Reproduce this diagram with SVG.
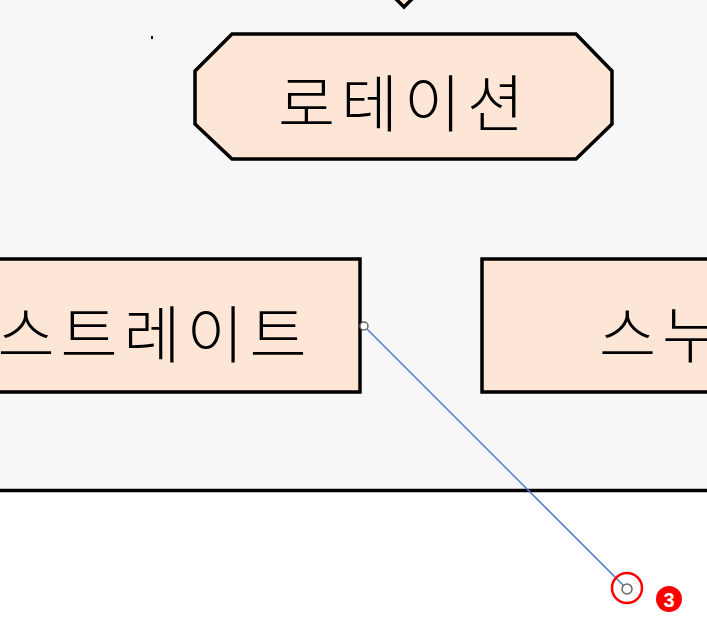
<svg xmlns="http://www.w3.org/2000/svg" width="707" height="624" viewBox="0 0 707 624">
<style>
.node{fill:#fee6d6;stroke:#000;stroke-width:3.5}
.lbl{font-family:"Noto Sans CJK KR","Noto Sans",sans-serif;font-size:62px;font-weight:300;fill:#000;text-anchor:middle;dominant-baseline:central;letter-spacing:6px}
.conn{stroke:#4a79cf;stroke-width:1.5;fill:none}
.end{fill:#fff;stroke:#666;stroke-width:1.5}
</style>
<rect x="0" y="0" width="707" height="624" fill="#fff"/>
<g id="container">
<rect x="-20" y="-20" width="760" height="510.5" fill="#f7f7f7" stroke="#000" stroke-width="3.5"/>
</g>
<rect x="151" y="36" width="2" height="3" fill="#000"/>
<g id="decision">
<polygon class="node" points="404,7 344,-53 404,-113 464,-53"/>
</g>
<g id="rotation">
<polygon class="node" points="232,34 576,34 612,71 612,124 576,159 232,159 195,124 195,71"/>
<text class="lbl" x="404" y="100">로테이션</text>
</g>
<g id="straight">
<rect class="node" x="-60" y="259" width="420" height="133"/>
<text class="lbl" x="155" y="331">스트레이트</text>
</g>
<g id="snooker">
<rect class="node" x="482" y="259" width="300" height="133"/>
<text class="lbl" x="599" y="331" style="text-anchor:start">스누</text>
</g>
<g id="connectors">
<line class="conn" x1="364" y1="326" x2="627" y2="589"/>
<circle class="end" cx="364" cy="326" r="4"/>
<circle class="end" cx="627" cy="589" r="5"/>
</g>
<g id="marker3">
<circle cx="627" cy="588" r="15" fill="none" stroke="#f00" stroke-width="2.5"/>
<circle cx="669" cy="599" r="13" fill="#f00"/>
<text x="669" y="600" font-family="Liberation Sans, Arial, sans-serif" font-size="20" font-weight="bold" fill="#fff" text-anchor="middle" dominant-baseline="central">3</text>
</g>
</svg>
